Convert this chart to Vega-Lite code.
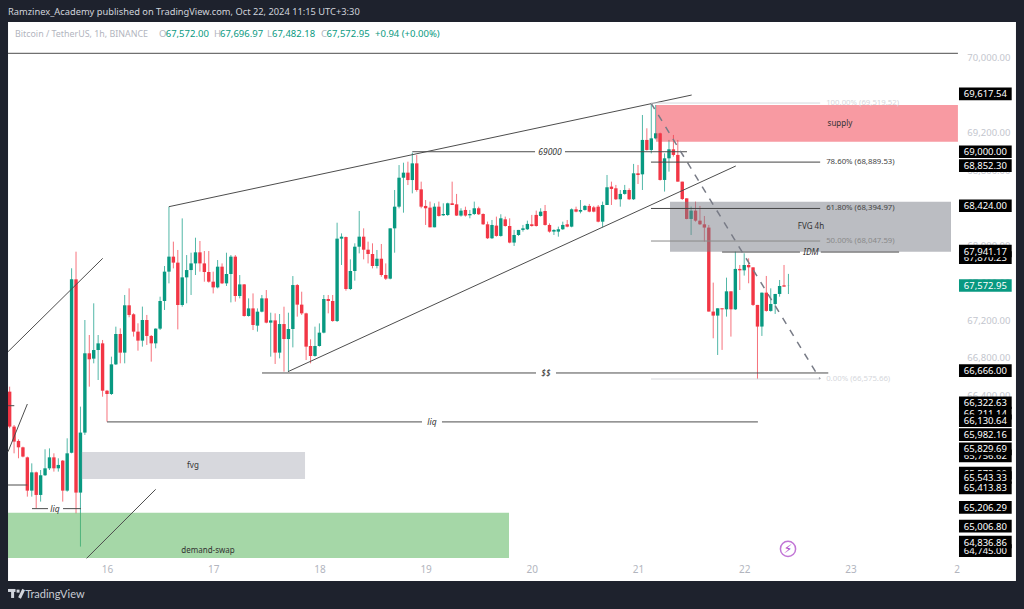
{"$schema":"https://vega.github.io/schema/vega-lite/v6.json","width":1008,"height":559,"autosize":{"type":"none"},"padding":{"left":8,"top":22,"right":8,"bottom":28},"background":"#ffffff","view":{"stroke":null},
"config":{"text":{"font":"Noto Sans","fontSize":9.5},"axis":{"labelFont":"Noto Sans","labelFontSize":9.5}},
"datasets":{
"tags":[
{"price":67870.23,"label":"67,870.23","tier":0},{"price":66211.14,"label":"66,211.14","tier":0},{"price":65756.62,"label":"65,756.62","tier":0},{"price":65572.0,"label":"65,572.00","tier":0},{"price":64745.0,"label":"64,745.00","tier":0},
{"price":65525,"label":"65,543.33","tier":1},
{"price":69617.54,"label":"69,617.54","tier":2},{"price":69000,"label":"69,000.00","tier":2},{"price":68852.3,"label":"68,852.30","tier":2},{"price":68424,"label":"68,424.00","tier":2},{"price":67941.17,"label":"67,941.17","tier":2},{"price":67572.95,"label":"67,572.95","tier":2},{"price":66666,"label":"66,666.00","tier":2},{"price":66322.63,"label":"66,322.63","tier":2},{"price":66130.64,"label":"66,130.64","tier":2},{"price":65982.16,"label":"65,982.16","tier":2},{"price":65829.69,"label":"65,829.69","tier":2},{"price":65413.83,"label":"65,413.83","tier":2},{"price":65206.29,"label":"65,206.29","tier":2},{"price":65006.8,"label":"65,006.80","tier":2},{"price":64836.86,"label":"64,836.86","tier":2}],
"fib":[
{"label":"100.00% (69,519.52)","p":69519.52,"level":"pale"},{"label":"78.60% (68,889.53)","p":68889.53,"level":"strong"},{"label":"61.80% (68,394.97)","p":68394.97,"level":"strong"},{"label":"50.00% (68,047.59)","p":68047.59,"level":"mid"},{"label":"0.00% (66,575.66)","p":66575.66,"level":"pale"}],
"candles":[
{"t":"2024-10-15T02:00:00Z","o":66441,"h":66494,"l":66050,"c":66068},
{"t":"2024-10-15T03:00:00Z","o":66068,"h":66085,"l":65783,"c":65908},
{"t":"2024-10-15T04:00:00Z","o":65915,"h":65932,"l":65730,"c":65847},
{"t":"2024-10-15T05:00:00Z","o":65847,"h":65854,"l":65740,"c":65748},
{"t":"2024-10-15T06:00:00Z","o":65740,"h":65748,"l":65321,"c":65385},
{"t":"2024-10-15T07:00:00Z","o":65385,"h":65676,"l":65321,"c":65580},
{"t":"2024-10-15T08:00:00Z","o":65580,"h":65588,"l":65197,"c":65339},
{"t":"2024-10-15T09:00:00Z","o":65339,"h":65605,"l":65268,"c":65549},
{"t":"2024-10-15T10:00:00Z","o":65549,"h":65826,"l":65541,"c":65623},
{"t":"2024-10-15T11:00:00Z","o":65623,"h":65836,"l":65605,"c":65740},
{"t":"2024-10-15T12:00:00Z","o":65740,"h":65783,"l":65588,"c":65623},
{"t":"2024-10-15T13:00:00Z","o":65623,"h":65730,"l":65588,"c":65659},
{"t":"2024-10-15T14:00:00Z","o":65705,"h":65712,"l":65268,"c":65385},
{"t":"2024-10-15T15:00:00Z","o":65385,"h":65943,"l":65374,"c":65783},
{"t":"2024-10-15T16:00:00Z","o":65790,"h":67757,"l":65783,"c":67639},
{"t":"2024-10-15T17:00:00Z","o":67639,"h":67934,"l":65143,"c":65364},
{"t":"2024-10-15T18:00:00Z","o":65364,"h":66281,"l":64788,"c":66004},
{"t":"2024-10-15T19:00:00Z","o":66004,"h":67205,"l":65979,"c":66850},
{"t":"2024-10-15T20:00:00Z","o":66850,"h":67045,"l":66494,"c":66786},
{"t":"2024-10-15T21:00:00Z","o":66793,"h":67383,"l":66743,"c":66885},
{"t":"2024-10-15T22:00:00Z","o":66885,"h":67045,"l":66565,"c":66956},
{"t":"2024-10-15T23:00:00Z","o":66956,"h":66992,"l":66387,"c":66451},
{"t":"2024-10-16T00:00:00Z","o":66451,"h":66459,"l":66121,"c":66416},
{"t":"2024-10-16T01:00:00Z","o":66416,"h":66814,"l":66405,"c":66732},
{"t":"2024-10-16T02:00:00Z","o":66732,"h":67134,"l":66725,"c":67056},
{"t":"2024-10-16T03:00:00Z","o":67056,"h":67116,"l":66743,"c":66857},
{"t":"2024-10-16T04:00:00Z","o":66857,"h":67472,"l":66743,"c":67362},
{"t":"2024-10-16T05:00:00Z","o":67362,"h":67543,"l":67234,"c":67259},
{"t":"2024-10-16T06:00:00Z","o":67266,"h":67277,"l":67028,"c":67081},
{"t":"2024-10-16T07:00:00Z","o":67081,"h":67170,"l":66878,"c":66985},
{"t":"2024-10-16T08:00:00Z","o":66985,"h":67348,"l":66921,"c":67205},
{"t":"2024-10-16T09:00:00Z","o":67205,"h":67259,"l":66939,"c":67035},
{"t":"2024-10-16T10:00:00Z","o":67035,"h":67045,"l":66761,"c":66956},
{"t":"2024-10-16T11:00:00Z","o":66956,"h":67116,"l":66903,"c":67113},
{"t":"2024-10-16T12:00:00Z","o":67113,"h":67454,"l":67099,"c":67408},
{"t":"2024-10-16T13:00:00Z","o":67408,"h":67781,"l":67312,"c":67721},
{"t":"2024-10-16T14:00:00Z","o":67721,"h":68414,"l":67596,"c":67881},
{"t":"2024-10-16T15:00:00Z","o":67881,"h":68041,"l":67756,"c":67817},
{"t":"2024-10-16T16:00:00Z","o":67817,"h":67952,"l":67105,"c":67365},
{"t":"2024-10-16T17:00:00Z","o":67365,"h":68289,"l":67347,"c":67660},
{"t":"2024-10-16T18:00:00Z","o":67660,"h":67898,"l":67383,"c":67738},
{"t":"2024-10-16T19:00:00Z","o":67738,"h":67923,"l":67472,"c":67809},
{"t":"2024-10-16T20:00:00Z","o":67809,"h":68083,"l":67685,"c":67927},
{"t":"2024-10-16T21:00:00Z","o":67927,"h":68048,"l":67721,"c":67809},
{"t":"2024-10-16T22:00:00Z","o":67809,"h":67941,"l":67614,"c":67717},
{"t":"2024-10-16T23:00:00Z","o":67717,"h":67941,"l":67604,"c":67614},
{"t":"2024-10-17T00:00:00Z","o":67614,"h":67721,"l":67489,"c":67553},
{"t":"2024-10-17T01:00:00Z","o":67553,"h":67845,"l":67543,"c":67774},
{"t":"2024-10-17T02:00:00Z","o":67774,"h":67809,"l":67589,"c":67596},
{"t":"2024-10-17T03:00:00Z","o":67596,"h":67923,"l":67568,"c":67696},
{"t":"2024-10-17T04:00:00Z","o":67696,"h":67898,"l":67393,"c":67881},
{"t":"2024-10-17T05:00:00Z","o":67881,"h":67898,"l":67401,"c":67461},
{"t":"2024-10-17T06:00:00Z","o":67461,"h":67685,"l":67436,"c":67585},
{"t":"2024-10-17T07:00:00Z","o":67585,"h":67589,"l":67241,"c":67248},
{"t":"2024-10-17T08:00:00Z","o":67248,"h":67436,"l":67241,"c":67329},
{"t":"2024-10-17T09:00:00Z","o":67329,"h":67489,"l":67098,"c":67152},
{"t":"2024-10-17T10:00:00Z","o":67145,"h":67329,"l":67081,"c":67294},
{"t":"2024-10-17T11:00:00Z","o":67294,"h":67472,"l":67287,"c":67436},
{"t":"2024-10-17T12:00:00Z","o":67436,"h":67525,"l":67170,"c":67177},
{"t":"2024-10-17T13:00:00Z","o":67177,"h":67283,"l":66814,"c":67201},
{"t":"2024-10-17T14:00:00Z","o":67201,"h":67276,"l":66736,"c":66857},
{"t":"2024-10-17T15:00:00Z","o":66857,"h":67269,"l":66796,"c":67162},
{"t":"2024-10-17T16:00:00Z","o":67162,"h":67347,"l":66654,"c":67002},
{"t":"2024-10-17T17:00:00Z","o":67002,"h":67283,"l":66654,"c":67109},
{"t":"2024-10-17T18:00:00Z","o":67109,"h":67674,"l":66913,"c":67578},
{"t":"2024-10-17T19:00:00Z","o":67578,"h":67589,"l":67241,"c":67369},
{"t":"2024-10-17T20:00:00Z","o":67369,"h":67507,"l":67259,"c":67276},
{"t":"2024-10-17T21:00:00Z","o":67276,"h":67283,"l":66778,"c":66921},
{"t":"2024-10-17T22:00:00Z","o":66928,"h":66999,"l":66743,"c":66821},
{"t":"2024-10-17T23:00:00Z","o":66821,"h":67134,"l":66814,"c":66928},
{"t":"2024-10-18T00:00:00Z","o":66928,"h":67169,"l":66921,"c":67070},
{"t":"2024-10-18T01:00:00Z","o":67070,"h":67472,"l":67063,"c":67429},
{"t":"2024-10-18T02:00:00Z","o":67429,"h":67472,"l":67276,"c":67408},
{"t":"2024-10-18T03:00:00Z","o":67408,"h":67472,"l":67187,"c":67194},
{"t":"2024-10-18T04:00:00Z","o":67194,"h":68243,"l":67184,"c":68073},
{"t":"2024-10-18T05:00:00Z","o":68073,"h":68129,"l":67792,"c":68094},
{"t":"2024-10-18T06:00:00Z","o":68090,"h":68095,"l":67518,"c":67536},
{"t":"2024-10-18T07:00:00Z","o":67536,"h":67852,"l":67525,"c":67728},
{"t":"2024-10-18T08:00:00Z","o":67728,"h":68023,"l":67625,"c":67987},
{"t":"2024-10-18T09:00:00Z","o":67987,"h":68368,"l":67916,"c":68094},
{"t":"2024-10-18T10:00:00Z","o":68094,"h":68183,"l":67852,"c":67955},
{"t":"2024-10-18T11:00:00Z","o":67955,"h":68041,"l":67809,"c":67909},
{"t":"2024-10-18T12:00:00Z","o":67909,"h":68023,"l":67756,"c":67781},
{"t":"2024-10-18T13:00:00Z","o":67781,"h":67952,"l":67756,"c":67859},
{"t":"2024-10-18T14:00:00Z","o":67859,"h":68016,"l":67667,"c":67685},
{"t":"2024-10-18T15:00:00Z","o":67685,"h":67809,"l":67632,"c":67646},
{"t":"2024-10-18T16:00:00Z","o":67646,"h":68183,"l":67639,"c":68183},
{"t":"2024-10-18T17:00:00Z","o":68183,"h":68592,"l":67923,"c":68414},
{"t":"2024-10-18T18:00:00Z","o":68414,"h":68858,"l":68396,"c":68723},
{"t":"2024-10-18T19:00:00Z","o":68723,"h":68883,"l":68350,"c":68777},
{"t":"2024-10-18T20:00:00Z","o":68777,"h":68894,"l":68645,"c":68698},
{"t":"2024-10-18T21:00:00Z","o":68698,"h":68990,"l":68556,"c":68876},
{"t":"2024-10-18T22:00:00Z","o":68876,"h":68965,"l":68574,"c":68592},
{"t":"2024-10-18T23:00:00Z","o":68599,"h":68681,"l":68397,"c":68414},
{"t":"2024-10-19T00:00:00Z","o":68422,"h":68485,"l":68219,"c":68397},
{"t":"2024-10-19T01:00:00Z","o":68404,"h":68468,"l":68194,"c":68194},
{"t":"2024-10-19T02:00:00Z","o":68194,"h":68450,"l":68194,"c":68414},
{"t":"2024-10-19T03:00:00Z","o":68414,"h":68468,"l":68308,"c":68315},
{"t":"2024-10-19T04:00:00Z","o":68322,"h":68450,"l":68315,"c":68336},
{"t":"2024-10-19T05:00:00Z","o":68325,"h":68457,"l":68315,"c":68450},
{"t":"2024-10-19T06:00:00Z","o":68450,"h":68681,"l":68432,"c":68432},
{"t":"2024-10-19T07:00:00Z","o":68439,"h":68550,"l":68315,"c":68319},
{"t":"2024-10-19T08:00:00Z","o":68319,"h":68397,"l":68308,"c":68372},
{"t":"2024-10-19T09:00:00Z","o":68379,"h":68414,"l":68308,"c":68319},
{"t":"2024-10-19T10:00:00Z","o":68322,"h":68379,"l":68290,"c":68336},
{"t":"2024-10-19T11:00:00Z","o":68336,"h":68468,"l":68325,"c":68397},
{"t":"2024-10-19T12:00:00Z","o":68397,"h":68414,"l":68325,"c":68333},
{"t":"2024-10-19T13:00:00Z","o":68336,"h":68343,"l":68219,"c":68226},
{"t":"2024-10-19T14:00:00Z","o":68226,"h":68255,"l":68069,"c":68077},
{"t":"2024-10-19T15:00:00Z","o":68077,"h":68272,"l":68069,"c":68219},
{"t":"2024-10-19T16:00:00Z","o":68212,"h":68308,"l":68094,"c":68102},
{"t":"2024-10-19T17:00:00Z","o":68102,"h":68333,"l":68094,"c":68290},
{"t":"2024-10-19T18:00:00Z","o":68279,"h":68308,"l":68201,"c":68208},
{"t":"2024-10-19T19:00:00Z","o":68208,"h":68290,"l":68023,"c":68031},
{"t":"2024-10-19T20:00:00Z","o":68031,"h":68166,"l":67995,"c":68112},
{"t":"2024-10-19T21:00:00Z","o":68112,"h":68166,"l":68102,"c":68166},
{"t":"2024-10-19T22:00:00Z","o":68166,"h":68219,"l":68148,"c":68183},
{"t":"2024-10-19T23:00:00Z","o":68173,"h":68265,"l":68166,"c":68230},
{"t":"2024-10-20T00:00:00Z","o":68226,"h":68326,"l":68201,"c":68208},
{"t":"2024-10-20T01:00:00Z","o":68326,"h":68372,"l":68201,"c":68208},
{"t":"2024-10-20T02:00:00Z","o":68315,"h":68397,"l":68308,"c":68361},
{"t":"2024-10-20T03:00:00Z","o":68368,"h":68432,"l":68212,"c":68219},
{"t":"2024-10-20T04:00:00Z","o":68219,"h":68236,"l":68137,"c":68148},
{"t":"2024-10-20T05:00:00Z","o":68148,"h":68173,"l":68112,"c":68166},
{"t":"2024-10-20T06:00:00Z","o":68148,"h":68201,"l":68094,"c":68173},
{"t":"2024-10-20T07:00:00Z","o":68173,"h":68254,"l":68166,"c":68219},
{"t":"2024-10-20T08:00:00Z","o":68226,"h":68272,"l":68194,"c":68201},
{"t":"2024-10-20T09:00:00Z","o":68201,"h":68396,"l":68194,"c":68386},
{"t":"2024-10-20T10:00:00Z","o":68386,"h":68414,"l":68354,"c":68361},
{"t":"2024-10-20T11:00:00Z","o":68361,"h":68485,"l":68343,"c":68379},
{"t":"2024-10-20T12:00:00Z","o":68379,"h":68432,"l":68372,"c":68422},
{"t":"2024-10-20T13:00:00Z","o":68422,"h":68443,"l":68354,"c":68361},
{"t":"2024-10-20T14:00:00Z","o":68407,"h":68422,"l":68354,"c":68361},
{"t":"2024-10-20T15:00:00Z","o":68414,"h":68432,"l":68247,"c":68254},
{"t":"2024-10-20T16:00:00Z","o":68254,"h":68468,"l":68194,"c":68432},
{"t":"2024-10-20T17:00:00Z","o":68432,"h":68752,"l":68432,"c":68621},
{"t":"2024-10-20T18:00:00Z","o":68628,"h":68681,"l":68432,"c":68603},
{"t":"2024-10-20T19:00:00Z","o":68610,"h":68646,"l":68485,"c":68493},
{"t":"2024-10-20T20:00:00Z","o":68493,"h":68592,"l":68414,"c":68550},
{"t":"2024-10-20T21:00:00Z","o":68550,"h":68646,"l":68542,"c":68592},
{"t":"2024-10-20T22:00:00Z","o":68592,"h":68610,"l":68485,"c":68493},
{"t":"2024-10-20T23:00:00Z","o":68493,"h":68870,"l":68485,"c":68770},
{"t":"2024-10-21T00:00:00Z","o":68770,"h":68859,"l":68656,"c":68752},
{"t":"2024-10-21T01:00:00Z","o":68759,"h":69392,"l":68592,"c":69126},
{"t":"2024-10-21T02:00:00Z","o":69126,"h":69250,"l":69012,"c":69019},
{"t":"2024-10-21T03:00:00Z","o":69019,"h":69517,"l":68983,"c":69143},
{"t":"2024-10-21T04:00:00Z","o":69143,"h":69499,"l":69132,"c":69197},
{"t":"2024-10-21T05:00:00Z","o":69197,"h":69204,"l":68692,"c":68699},
{"t":"2024-10-21T06:00:00Z","o":68699,"h":68983,"l":68575,"c":68930},
{"t":"2024-10-21T07:00:00Z","o":68930,"h":69126,"l":68788,"c":69026},
{"t":"2024-10-21T08:00:00Z","o":69026,"h":69179,"l":68948,"c":68966},
{"t":"2024-10-21T09:00:00Z","o":68966,"h":69126,"l":68681,"c":68681},
{"t":"2024-10-21T10:00:00Z","o":68681,"h":68681,"l":68485,"c":68496},
{"t":"2024-10-21T11:00:00Z","o":68503,"h":68503,"l":68279,"c":68283},
{"t":"2024-10-21T12:00:00Z","o":68283,"h":68415,"l":68112,"c":68372},
{"t":"2024-10-21T13:00:00Z","o":68372,"h":68468,"l":68254,"c":68265},
{"t":"2024-10-21T14:00:00Z","o":68265,"h":68422,"l":68219,"c":68226},
{"t":"2024-10-21T15:00:00Z","o":68226,"h":68315,"l":68041,"c":68191},
{"t":"2024-10-21T16:00:00Z","o":68191,"h":68219,"l":67295,"c":67295},
{"t":"2024-10-21T17:00:00Z","o":67295,"h":67604,"l":67010,"c":67252},
{"t":"2024-10-21T18:00:00Z","o":67252,"h":67330,"l":66832,"c":67330},
{"t":"2024-10-21T19:00:00Z","o":67330,"h":67330,"l":66886,"c":67319},
{"t":"2024-10-21T20:00:00Z","o":67319,"h":67657,"l":67241,"c":67511},
{"t":"2024-10-21T21:00:00Z","o":67511,"h":67511,"l":67028,"c":67319},
{"t":"2024-10-21T22:00:00Z","o":67319,"h":67935,"l":67312,"c":67750},
{"t":"2024-10-21T23:00:00Z","o":67750,"h":67792,"l":67525,"c":67735},
{"t":"2024-10-22T00:00:00Z","o":67735,"h":67917,"l":67679,"c":67792},
{"t":"2024-10-22T01:00:00Z","o":67792,"h":67863,"l":67597,"c":67767},
{"t":"2024-10-22T02:00:00Z","o":67767,"h":67767,"l":67355,"c":67366},
{"t":"2024-10-22T03:00:00Z","o":67366,"h":67366,"l":66575,"c":67135},
{"t":"2024-10-22T04:00:00Z","o":67135,"h":67497,"l":67035,"c":67497},
{"t":"2024-10-22T05:00:00Z","o":67497,"h":67675,"l":67294,"c":67302},
{"t":"2024-10-22T06:00:00Z","o":67302,"h":67543,"l":67294,"c":67376},
{"t":"2024-10-22T07:00:00Z","o":67376,"h":67483,"l":67270,"c":67483},
{"t":"2024-10-22T08:00:00Z","o":67483,"h":67632,"l":67454,"c":67568},
{"t":"2024-10-22T09:00:00Z","o":67575,"h":67792,"l":67561,"c":67561},
{"t":"2024-10-22T10:00:00Z","o":67572,"h":67696.97,"l":67482.18,"c":67572.95}]
},
"resolve":{"scale":{"color":"independent"}},
"layer":[
{"data":{"name":"candles"},"mark":{"type":"rule","strokeWidth":1,"opacity":0.7},
"encoding":{"x":{"field":"t","type":"temporal","scale":{"type":"utc","domain":[1728956258000,1729776325000],"nice":false},
"axis":{"orient":"bottom","title":null,"grid":false,"domain":false,"ticks":false,"values":[1729036800000,1729123200000,1729209600000,1729296000000,1729382400000,1729468800000,1729555200000,1729641600000,1729728000000],"labelExpr":"utcdate(datum.value)==24?'2':''+utcdate(datum.value)","labelColor":"#b2b5be","labelFontSize":10,"labelPadding":-17,"labelOverlap":false,"labelFlush":false}},
"y":{"field":"l","type":"quantitative","scale":{"domain":[64421,70384],"nice":false,"zero":false},
"axis":{"orient":"right","title":null,"grid":false,"domain":false,"ticks":false,"values":[70400,70000,69600,69200,68800,68400,68000,67600,67200,66800,66400,66000,65600,65200,64800],"format":",.2f","labelAlign":"right","labelPadding":-6,"labelColor":"#c3c6ce","labelOverlap":false,"labelBound":false}},
"y2":{"field":"h"},"color":{"condition":{"test":"datum.c>=datum.o","value":"#089981"},"value":"#f23645"}}},
{"data":{"name":"candles"},"mark":{"type":"rule","strokeWidth":3.4},
"encoding":{"x":{"field":"t","type":"temporal","axis":{"orient":"bottom","title":null}},"y":{"field":"o","type":"quantitative","axis":{"orient":"right","title":null}},"y2":{"field":"c"},"color":{"condition":{"test":"datum.c>=datum.o","value":"#089981"},"value":"#f23645"}}},
{"data":{"values":[
{"name":"supply","t":"2024-10-21T04:04:00Z","t2":"2024-10-24T00:18:00Z","p":69499,"p2":69107},
{"name":"fvg4h","t":"2024-10-21T07:14:00Z","t2":"2024-10-23T22:44:00Z","p":68467,"p2":67934},
{"name":"fvg","t":"2024-10-15T18:18:00Z","t2":"2024-10-17T20:45:00Z","p":65797,"p2":65509},
{"name":"demand","t":"2024-10-15T01:38:00Z","t2":"2024-10-19T18:51:00Z","p":65150,"p2":64667}],"format":{"parse":{"t":"date","t2":"date"}}},
"mark":{"type":"rect","opacity":0.5},
"encoding":{"x":{"field":"t","type":"temporal","axis":{"orient":"bottom","title":null}},"x2":{"field":"t2"},"y":{"field":"p","type":"quantitative","axis":{"orient":"right","title":null}},"y2":{"field":"p2"},
"color":{"field":"name","type":"nominal","legend":null,"scale":{"domain":["supply","fvg4h","fvg","demand"],"range":["#f23645","#787b86","#afb1bb","#4caf50"]}}}},
{"data":{"values":[
{"t":"2024-10-14T22:42:00Z","t2":"2024-10-15T01:38:00Z","p":64090,"p2":70640},
{"t":"2024-10-24T13:25:00Z","t2":"2024-10-24T16:36:00Z","p":64090,"p2":70640},
{"t":"2024-10-14T22:42:00Z","t2":"2024-10-24T16:36:00Z","p":70384,"p2":70640},
{"t":"2024-10-14T22:42:00Z","t2":"2024-10-24T16:36:00Z","p":64090,"p2":64421}],"format":{"parse":{"t":"date","t2":"date"}}},
"mark":{"type":"rect","color":"#1e222d","clip":false},
"encoding":{"x":{"field":"t","type":"temporal","axis":{"orient":"bottom","title":null}},"x2":{"field":"t2"},"y":{"field":"p","type":"quantitative","axis":{"orient":"right","title":null}},"y2":{"field":"p2"}}},
{"data":{"values":[
{"t":"2024-10-15T01:38:00Z","t2":"2024-10-24T00:18:00Z","p":70050,"p2":70050},
{"t":"2024-10-16T14:00:00Z","t2":"2024-10-21T12:08:00Z","p":68414,"p2":69605},
{"t":"2024-10-17T16:54:00Z","t2":"2024-10-21T22:06:00Z","p":66654,"p2":68848},
{"t":"2024-10-18T21:00:00Z","t2":"2024-10-20T00:44:00Z","p":69000,"p2":69000},
{"t":"2024-10-20T07:30:00Z","t2":"2024-10-21T11:04:00Z","p":69000,"p2":69000},
{"t":"2024-10-17T11:02:00Z","t2":"2024-10-20T00:57:00Z","p":66640,"p2":66640},
{"t":"2024-10-20T05:28:00Z","t2":"2024-10-22T19:00:00Z","p":66640,"p2":66640},
{"t":"2024-10-16T00:00:00Z","t2":"2024-10-18T23:11:00Z","p":66118,"p2":66118},
{"t":"2024-10-19T03:42:00Z","t2":"2024-10-22T03:06:00Z","p":66118,"p2":66118},
{"t":"2024-10-15T07:03:00Z","t2":"2024-10-15T10:40:00Z","p":65193,"p2":65193},
{"t":"2024-10-15T14:04:00Z","t2":"2024-10-15T18:07:00Z","p":65193,"p2":65193},
{"t":"2024-10-15T01:38:00Z","t2":"2024-10-15T23:02:00Z","p":66867,"p2":67863},
{"t":"2024-10-15T01:38:00Z","t2":"2024-10-15T06:00:00Z","p":65800,"p2":66309},
{"t":"2024-10-15T01:38:00Z","t2":"2024-10-15T03:03:00Z","p":66291,"p2":66291},
{"t":"2024-10-15T01:38:00Z","t2":"2024-10-15T06:00:00Z","p":65445,"p2":65445},
{"t":"2024-10-15T19:24:00Z","t2":"2024-10-16T11:00:00Z","p":64663,"p2":65399},
{"t":"2024-10-21T19:00:00Z","t2":"2024-10-22T12:36:00Z","p":67930,"p2":67930},
{"t":"2024-10-22T17:18:00Z","t2":"2024-10-23T11:00:00Z","p":67930,"p2":67930}],"format":{"parse":{"t":"date","t2":"date"}}},
"mark":{"type":"rule","strokeWidth":1,"color":"#4d4d4d"},
"encoding":{"x":{"field":"t","type":"temporal","axis":{"orient":"bottom","title":null}},"x2":{"field":"t2"},"y":{"field":"p","type":"quantitative","axis":{"orient":"right","title":null}},"y2":{"field":"p2"}}},
{"data":{"values":[{"t":"2024-10-21T02:56:00Z","t2":"2024-10-22T17:08:00Z","p":69519.52,"p2":66575.66}],"format":{"parse":{"t":"date","t2":"date"}}},
"mark":{"type":"rule","strokeWidth":1.5,"color":"#787b86","strokeDash":[7,7]},
"encoding":{"x":{"field":"t","type":"temporal","axis":{"orient":"bottom","title":null}},"x2":{"field":"t2"},"y":{"field":"p","type":"quantitative","axis":{"orient":"right","title":null}},"y2":{"field":"p2"}}},
{"data":{"name":"fib"},"mark":{"type":"rule","strokeWidth":1},
"encoding":{"x":{"datum":1729479360000,"type":"temporal","axis":{"orient":"bottom","title":null}},"x2":{"datum":1729617000000},"y":{"field":"p","type":"quantitative","axis":{"orient":"right","title":null}},
"color":{"field":"level","type":"nominal","legend":null,"scale":{"domain":["pale","strong","mid"],"range":["#d5d7dc","#444444","#8a8a8a"]}}}},
{"data":{"name":"fib"},"mark":{"type":"text","align":"left","baseline":"middle","dx":6,"fontSize":7.8},
"encoding":{"x":{"datum":1729617000000,"type":"temporal","axis":{"orient":"bottom","title":null}},"y":{"field":"p","type":"quantitative","axis":{"orient":"right","title":null}},"text":{"field":"label"},
"color":{"field":"level","type":"nominal","legend":null,"scale":{"domain":["pale","strong","mid"],"range":["#d5d7dc","#444444","#8a8a8a"]}}}},
{"data":{"values":[
{"text":"supply","t":"2024-10-22T21:38:00Z","p":69296},
{"text":"FVG 4h","t":"2024-10-22T15:05:00Z","p":68200},
{"text":"fvg","t":"2024-10-16T19:26:00Z","p":65643},
{"text":"demand-swap","t":"2024-10-16T22:50:00Z","p":64744}],"format":{"parse":{"t":"date"}}},
"mark":{"type":"text","color":"#333333","fontSize":8,"baseline":"middle"},
"encoding":{"x":{"field":"t","type":"temporal","axis":{"orient":"bottom","title":null}},"y":{"field":"p","type":"quantitative","axis":{"orient":"right","title":null}},"text":{"field":"text"}}},
{"data":{"values":[
{"text":"liq","t":"2024-10-15T12:15:00Z","p":65192},
{"text":"liq","t":"2024-10-19T01:27:00Z","p":66118},
{"text":"69000","t":"2024-10-20T04:07:00Z","p":69000},
{"text":"$$","t":"2024-10-20T03:12:00Z","p":66640},
{"text":"IDM","t":"2024-10-22T15:05:00Z","p":67930}],"format":{"parse":{"t":"date"}}},
"mark":{"type":"text","color":"#333333","fontSize":8.5,"fontStyle":"italic","baseline":"middle"},
"encoding":{"x":{"field":"t","type":"temporal","axis":{"orient":"bottom","title":null}},"y":{"field":"p","type":"quantitative","axis":{"orient":"right","title":null}},"text":{"field":"text"}}},
{"data":{"values":[{"t":"2024-10-22T09:54:00Z","p":64763}],"format":{"parse":{"t":"date"}}},
"mark":{"type":"point","filled":false,"color":"#a83dc5","size":230,"strokeWidth":1.5},
"encoding":{"x":{"field":"t","type":"temporal","axis":{"orient":"bottom","title":null}},"y":{"field":"p","type":"quantitative","axis":{"orient":"right","title":null}}}},
{"data":{"values":[{"t":"2024-10-22T09:54:00Z","p":64763,"text":"⚡"}],"format":{"parse":{"t":"date"}}},
"mark":{"type":"text","color":"#a83dc5","font":"DejaVu Sans","fontSize":12,"fontWeight":"bold","baseline":"middle"},
"encoding":{"x":{"field":"t","type":"temporal","axis":{"orient":"bottom","title":null}},"y":{"field":"p","type":"quantitative","axis":{"orient":"right","title":null}},"text":{"field":"text"}}},
{"data":{"name":"tags"},"transform":[{"filter":"datum.tier==0"}],"mark":{"type":"rule","strokeWidth":12.7,"color":"#000000"},
"encoding":{"x":{"datum":1729729944000,"type":"temporal","axis":{"orient":"bottom","title":null}},"x2":{"datum":1729772820000},"y":{"field":"price","type":"quantitative","axis":{"orient":"right","title":null}}}},
{"data":{"name":"tags"},"transform":[{"filter":"datum.tier==0"}],"mark":{"type":"text","color":"#ffffff","baseline":"middle","dy":0.5},
"encoding":{"x":{"datum":1729751400000,"type":"temporal","axis":{"orient":"bottom","title":null}},"y":{"field":"price","type":"quantitative","axis":{"orient":"right","title":null}},"text":{"field":"label"}}},
{"data":{"name":"tags"},"transform":[{"filter":"datum.tier==1"}],"mark":{"type":"rule","strokeWidth":12.7,"color":"#000000"},
"encoding":{"x":{"datum":1729729944000,"type":"temporal","axis":{"orient":"bottom","title":null}},"x2":{"datum":1729772820000},"y":{"field":"price","type":"quantitative","axis":{"orient":"right","title":null}}}},
{"data":{"name":"tags"},"transform":[{"filter":"datum.tier==1"}],"mark":{"type":"text","color":"#ffffff","baseline":"middle","dy":0.5},
"encoding":{"x":{"datum":1729751400000,"type":"temporal","axis":{"orient":"bottom","title":null}},"y":{"field":"price","type":"quantitative","axis":{"orient":"right","title":null}},"text":{"field":"label"}}},
{"data":{"name":"tags"},"transform":[{"filter":"datum.tier==2"}],"mark":{"type":"rule","strokeWidth":12.7},
"encoding":{"x":{"datum":1729729944000,"type":"temporal","axis":{"orient":"bottom","title":null}},"x2":{"datum":1729772820000},"y":{"field":"price","type":"quantitative","axis":{"orient":"right","title":null}},"color":{"condition":{"test":"datum.price==67572.95","value":"#089981"},"value":"#000000"}}},
{"data":{"name":"tags"},"transform":[{"filter":"datum.tier==2"}],"mark":{"type":"text","color":"#ffffff","baseline":"middle","dy":0.5},
"encoding":{"x":{"datum":1729751400000,"type":"temporal","axis":{"orient":"bottom","title":null}},"y":{"field":"price","type":"quantitative","axis":{"orient":"right","title":null}},"text":{"field":"label"}}},
{"data":{"values":[{"text":"Bitcoin / TetherUS, 1h, BINANCE","t":"2024-10-15T03:12:00Z"}],"format":{"parse":{"t":"date"}}},
"mark":{"type":"text","align":"left","baseline":"middle","fontSize":8.9,"color":"#b2b5be"},
"encoding":{"x":{"field":"t","type":"temporal","axis":{"orient":"bottom","title":null}},"y":{"datum":70261,"type":"quantitative","axis":{"orient":"right","title":null}},"text":{"field":"text"}}},
{"data":{"values":[
{"text":"O","t":"2024-10-16T11:45:00Z","kind":"name"},
{"text":"67,572.00","t":"2024-10-16T13:16:00Z","kind":"val"},
{"text":"H","t":"2024-10-17T00:11:00Z","kind":"name"},
{"text":"67,696.97","t":"2024-10-17T01:32:00Z","kind":"val"},
{"text":"L","t":"2024-10-17T12:10:00Z","kind":"name"},
{"text":"67,482.18","t":"2024-10-17T13:17:00Z","kind":"val"},
{"text":"C","t":"2024-10-18T00:22:00Z","kind":"name"},
{"text":"67,572.95","t":"2024-10-18T01:36:00Z","kind":"val"},
{"text":"+0.94 (+0.00%)","t":"2024-10-18T12:34:00Z","kind":"val"}],"format":{"parse":{"t":"date"}}},
"mark":{"type":"text","align":"left","baseline":"middle","fontSize":9.5},
"encoding":{"x":{"field":"t","type":"temporal","axis":{"orient":"bottom","title":null}},"y":{"datum":70261,"type":"quantitative","axis":{"orient":"right","title":null}},"text":{"field":"text"},
"color":{"field":"kind","type":"nominal","legend":null,"scale":{"domain":["name","val"],"range":["#b2b5be","#089981"]}}}},
{"data":{"values":[{"text":"Ramzinex_Academy published on TradingView.com, Oct 22, 2024 11:15 UTC+3:30","t":"2024-10-15T01:38:00Z","p":70491}],"format":{"parse":{"t":"date"}}},
"mark":{"type":"text","align":"left","baseline":"middle","fontSize":9.3,"color":"#d1d4dc"},
"encoding":{"x":{"field":"t","type":"temporal","axis":{"orient":"bottom","title":null}},"y":{"field":"p","type":"quantitative","axis":{"orient":"right","title":null}},"text":{"field":"text"}}},
{"data":{"values":[{"text":"TradingView","t":"2024-10-15T05:30:00Z","p":64272}],"format":{"parse":{"t":"date"}}},
"mark":{"type":"text","align":"left","baseline":"middle","fontSize":11,"color":"#c8ccd4","font":"Lato"},
"encoding":{"x":{"field":"t","type":"temporal","axis":{"orient":"bottom","title":null}},"y":{"field":"p","type":"quantitative","axis":{"orient":"right","title":null}},"text":{"field":"text"}}},
{"data":{"values":[
{"t":"2024-10-15T01:38:00Z","t2":"2024-10-15T03:19:00Z","p":64320,"p2":64320},
{"t":"2024-10-15T02:40:00Z","t2":"2024-10-15T02:40:00Z","p":64320,"p2":64240},
{"t":"2024-10-15T03:34:00Z","t2":"2024-10-15T04:14:00Z","p":64313,"p2":64313},
{"t":"2024-10-15T04:14:00Z","t2":"2024-10-15T05:10:00Z","p":64240,"p2":64330}],"format":{"parse":{"t":"date","t2":"date"}}},
"mark":{"type":"rule","strokeWidth":3,"color":"#d1d4dc"},
"encoding":{"x":{"field":"t","type":"temporal","axis":{"orient":"bottom","title":null}},"x2":{"field":"t2"},"y":{"field":"p","type":"quantitative","axis":{"orient":"right","title":null}},"y2":{"field":"p2"}}}
]}
